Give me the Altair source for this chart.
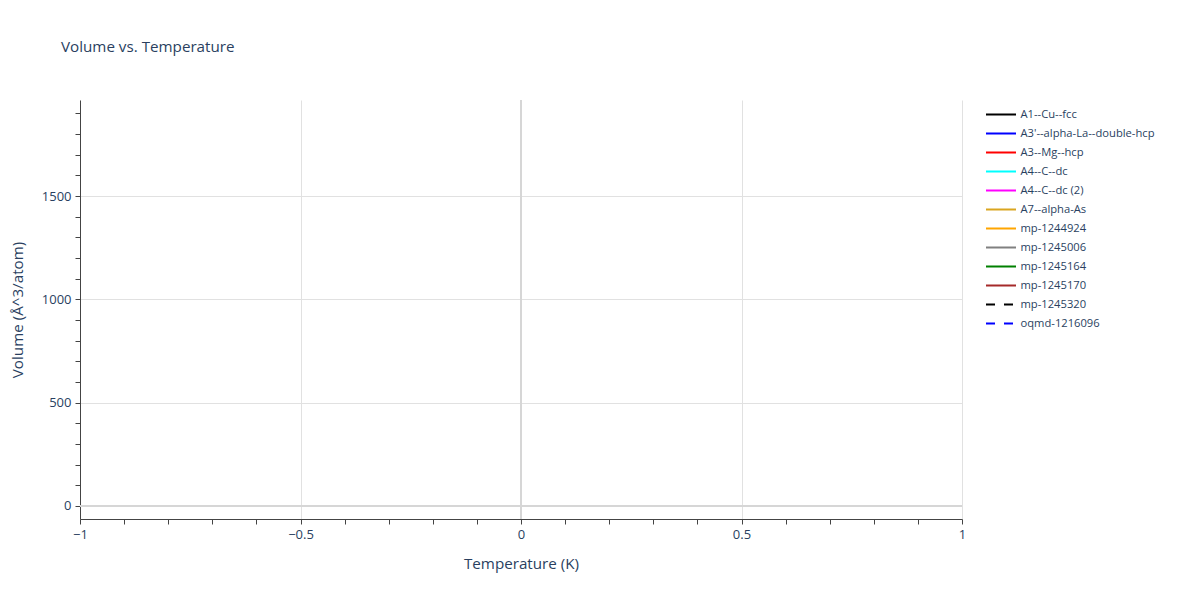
import altair as alt
import pandas as pd

series = ["A1--Cu--fcc", "A3'--alpha-La--double-hcp", "A3--Mg--hcp", "A4--C--dc",
          "A4--C--dc (2)", "A7--alpha-As", "mp-1244924", "mp-1245006",
          "mp-1245164", "mp-1245170", "mp-1245320", "oqmd-1216096"]
colors = ["black", "blue", "red", "cyan", "magenta", "goldenrod", "orange", "gray",
          "green", "brown", "black", "blue"]
dashes = [[1, 0]] * 10 + [[9, 9], [9, 9]]

# No data points are visible in the reference: every series is empty
temps = [None] * len(series)
vols = [None] * len(series)

x_ticks = [round(-1 + 0.1 * i, 1) for i in range(21)]
y_ticks = [100 * i for i in range(20)]

FONT = "Open Sans"
TXT = "#2a3f5f"

lines_df = pd.DataFrame({"series": series, "T": temps, "V": vols})

xscale = alt.Scale(domain=[-1, 1], nice=False, zero=False)
yscale = alt.Scale(domain=[-63, 1965], nice=False, zero=False)

xaxis = alt.Axis(
    values=x_ticks,
    labelExpr="abs(datum.value*2 - round(datum.value*2)) < 1e-6 ? replace(format(datum.value, '~g'), '-', '\u2212') : ''",
    gridOpacity={"condition": {"test": "abs(datum.value*2 - round(datum.value*2)) < 1e-6", "value": 1}, "value": 0},
    title="Temperature (K)",
    titleFontSize=15.2, titleFontWeight="normal", titleColor=TXT, titleFont=FONT,
    titlePadding=15,
    labelFontSize=13, labelColor=TXT, labelFont=FONT, labelPadding=4,
    tickColor="#444", tickSize=5, domainColor="#444", domainWidth=1,
    gridColor="#e1e1e1", labelFlush=False,
)
yaxis = alt.Axis(
    values=y_ticks,
    labelExpr="datum.value % 500 === 0 ? format(datum.value, 'd') : ''",
    gridOpacity={"condition": {"test": "datum.value % 500 === 0", "value": 1}, "value": 0},
    title="Volume (\u00c5^3/atom)",
    titleFontSize=15.2, titleFontWeight="normal", titleColor=TXT, titleFont=FONT,
    titlePadding=16,
    labelFontSize=13, labelColor=TXT, labelFont=FONT, labelPadding=4,
    tickColor="#444", tickSize=5, domainColor="#444", domainWidth=1,
    gridColor="#e1e1e1", labelFlush=False,
)

lines = alt.Chart(lines_df).mark_line(strokeWidth=2).encode(
    x=alt.X("T:Q", scale=xscale, axis=xaxis),
    y=alt.Y("V:Q", scale=yscale, axis=yaxis),
    color=alt.Color("series:N", scale=alt.Scale(domain=series, range=colors),
                    legend=alt.Legend(title=None)),
    strokeDash=alt.StrokeDash("series:N", scale=alt.Scale(domain=series, range=dashes),
                              legend=alt.Legend(title=None)),
)

zx = alt.Chart(pd.DataFrame({"x0": [0]})).mark_rule(color="#d6d6d6", strokeWidth=2).encode(
    x=alt.X("x0:Q", scale=xscale, axis=xaxis))
zy = alt.Chart(pd.DataFrame({"y0": [0]})).mark_rule(color="#d6d6d6", strokeWidth=2).encode(
    y=alt.Y("y0:Q", scale=yscale, axis=yaxis))

chart = alt.layer(zx, zy, lines).properties(
    width=882, height=419,
    autosize=alt.AutoSizeParams(type="none"),
    padding={"left": 72, "top": 92, "right": 230, "bottom": 81},
    title=alt.TitleParams("Volume vs. Temperature", anchor="start", frame="group",
                          dx=-19, offset=44,
                          fontSize=15.2, fontWeight="normal", color=TXT, font=FONT),
).configure_view(stroke=None).configure_legend(
    orient="none", legendX=912.5, legendY=6,
    symbolType="M-2,0H2", symbolSize=225, symbolStrokeWidth=2,
    labelFontSize=11.2, labelColor=TXT, labelFont=FONT, labelOffset=11,
    rowPadding=5, symbolOpacity=1,
)

chart.save("out.html", embed_options={"renderer": "svg", "actions": False})
